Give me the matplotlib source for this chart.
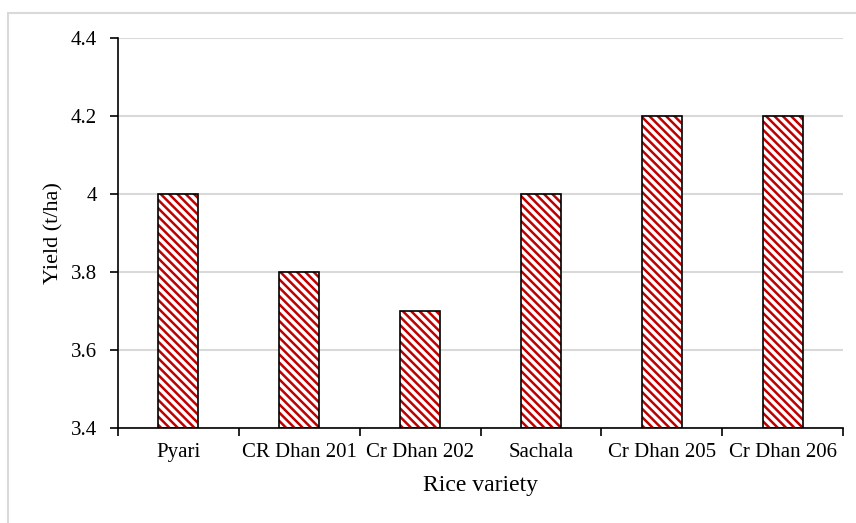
import numpy as np
import matplotlib.pyplot as plt
from matplotlib.patches import Rectangle

# datos
variedades = ['Pyari', 'CR Dhan 201', 'Cr Dhan 202', 'Sachala', 'Cr Dhan 205', 'Cr Dhan 206']
rendimiento = [4.0, 3.8, 3.7, 4.0, 4.2, 4.2]
yticks = [3.4, 3.6, 3.8, 4.0, 4.2, 4.4]
ylabels = ['3.4', '3.6', '3.8', '4', '4.2', '4.4']

plt.rcParams['font.family'] = ['Liberation Serif', 'DejaVu Serif']
plt.rcParams['hatch.linewidth'] = 1.8
plt.rcParams['hatch.color'] = '#C00000'

fig = plt.figure(figsize=(8.56, 5.23), dpi=100)
# borde gris del area del grafico
fig.patches.append(Rectangle((8/856, -0.1), 1.2, 1.1 - 13/523, transform=fig.transFigure,
                             fill=False, edgecolor='#d9d9d9', linewidth=1.5))
ax = fig.add_axes([118/856, 95/523, 725/856, 390/523])

x = np.arange(len(variedades))
base = yticks[0]
alturas = [v - base for v in rendimiento]
ax.bar(x, alturas, width=0.33, bottom=base, color='white', edgecolor='#C00000',
       hatch='\\\\\\\\', linewidth=0, zorder=2)
ax.bar(x, alturas, width=0.33, bottom=base, fill=False, edgecolor='black',
       linewidth=1.2, zorder=3)

ax.set_xlim(-0.5, len(variedades) - 0.5)
ax.set_ylim(3.4, 4.4)
ax.set_yticks(yticks)
ax.set_yticklabels(ylabels)
ax.yaxis.grid(True, color='#d9d9d9', linewidth=1.5, zorder=0)
ax.set_axisbelow(True)

ax.set_xticks(x)
ax.set_xticklabels(variedades)
ax.set_xticks(np.arange(len(variedades) + 1) - 0.5, minor=True)
ax.tick_params(axis='x', which='major', length=0, pad=11, labelsize=15)
ax.tick_params(axis='x', which='minor', length=6, width=1.2, direction='out')
ax.tick_params(axis='y', length=6, width=1.2, direction='out', labelsize=15, pad=9)

for lado in ['top', 'right']:
    ax.spines[lado].set_visible(False)
ax.spines['left'].set_linewidth(1.2)
ax.spines['bottom'].set_linewidth(1.2)

ax.set_xlabel('Rice variety', fontsize=17, labelpad=9)
ax.set_ylabel('Yield (t/ha)', fontsize=16, labelpad=5)

plt.savefig('out.png', dpi=100)
